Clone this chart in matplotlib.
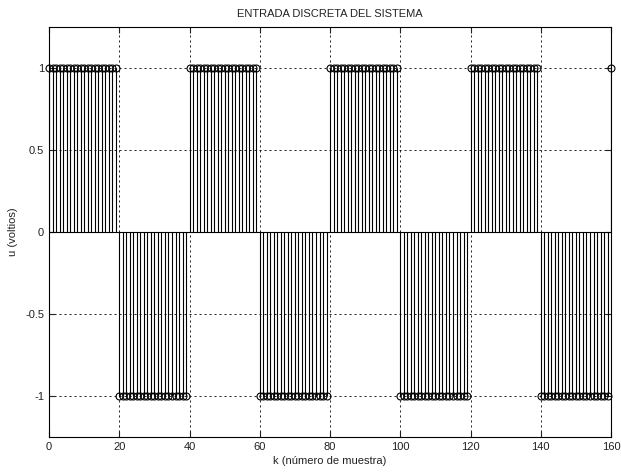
import numpy as np
import matplotlib.pyplot as plt

plt.rcParams['font.family'] = ['Liberation Sans', 'DejaVu Sans']

# square-wave input: each block holds a constant level for a number of samples
levels = [1, -1, 1, -1, 1, -1, 1, -1, 1]
block_len = [20, 20, 20, 20, 20, 20, 20, 20, 1]

u = np.repeat(levels, block_len)
k = np.arange(len(u))

fig = plt.figure(figsize=(6.21, 4.73), dpi=100)
ax = fig.add_axes([0.079, 0.076, 0.905, 0.867])

markerline, stemlines, baseline = ax.stem(k, u, linefmt='k-', markerfmt='o', basefmt='k-')
stemlines.set_linewidth(0.8)
markerline.set_markerfacecolor('none')
markerline.set_markeredgecolor('k')
markerline.set_markersize(5)
markerline.set_markeredgewidth(0.8)
markerline.set_clip_on(False)
markerline.set_zorder(5)
baseline.set_linewidth(0.8)
baseline.set_xdata([0, 160])

ax.set_xlim(0, 160)
ax.set_ylim(-1.25, 1.25)
ax.set_xticks(np.arange(0, 161, 20))
ax.set_yticks([-1, -0.5, 0, 0.5, 1])
ax.set_yticklabels(['-1', '-0.5', '0', '0.5', '1'])
ax.grid(True, color='k', linestyle=(0, (2.5, 3.5)), linewidth=0.6)
ax.tick_params(direction='in', labelsize=8, length=4, top=True, right=True,
               colors='#222222')
for s in ax.spines.values():
    s.set_linewidth(0.8)

ax.set_title('ENTRADA DISCRETA DEL SISTEMA', fontsize=8, pad=7, color='#222222')
ax.set_xlabel('k (número de muestra)', fontsize=8, labelpad=3, color='#222222')
ax.set_ylabel('u (voltios)', fontsize=8, labelpad=5, color='#222222')

fig.savefig('out.png', dpi=100)
